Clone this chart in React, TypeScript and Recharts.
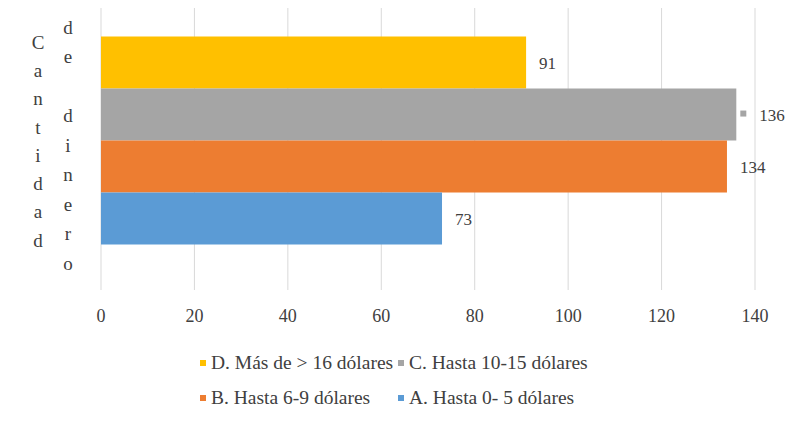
import { BarChart, Bar, XAxis, YAxis, CartesianGrid, LabelList } from "recharts";

const categories = ["Cantidad de dinero"];
const seriesNames = [
  "D. Más de > 16 dólares",
  "C. Hasta 10-15 dólares",
  "B. Hasta 6-9 dólares",
  "A. Hasta 0- 5 dólares",
];
const seriesValues = [91, 136, 134, 73];
const xTicks = [0, 20, 40, 60, 80, 100, 120, 140];

const colors = ["#FFC000", "#A5A5A5", "#ED7D31", "#5B9BD5"];
const FONT = "Liberation Serif, Tinos, Times New Roman, DejaVu Serif, serif";

// one row, one key per series
const data = categories.map((name) => {
  const row: Record<string, string | number> = { name };
  seriesNames.forEach((s, i) => {
    row[`s${i}`] = seriesValues[i];
  });
  return row;
});

// Excel-style stacked letters for the axis title
const AxisTitle = () => {
  const col1 = "Cantidad".split("");
  const col2 = "de dinero".split("");
  return (
    <g style={{ fontFamily: FONT }} fontSize={19} fill="#404040" textAnchor="middle">
      {col1.map((ch, i) => (
        <text key={`a${i}`} x={38} y={42 + i * 28.3} dy="0.35em">
          {ch}
        </text>
      ))}
      {col2.map((ch, i) => (
        <text key={`b${i}`} x={68} y={27 + i * 29.5} dy="0.35em">
          {ch}
        </text>
      ))}
    </g>
  );
};

const makeLabel = (withKey: boolean, color: string) => (props: any) => {
  const { x, y, width, height, value } = props;
  const cy = y + height / 2;
  const start = x + width + 13;
  return (
    <g>
      {withKey && <rect x={start - 9} y={cy - 4} width={6} height={6} fill={color} />}
      <text
        x={withKey ? start + 10 : start}
        y={cy}
        dy="0.35em"
        style={{ fontFamily: FONT }}
        fontSize={17}
        fill="#404040"
      >
        {value}
      </text>
    </g>
  );
};

export default function App() {
  return (
    <div
      style={{
        position: "relative",
        width: 794,
        height: 421,
        margin: -8,
        background: "#fff",
        fontFamily: FONT,
      }}
    >
      <div
        style={{
          position: "absolute",
          left: 5,
          top: 0,
          width: 787,
          height: 419,
          borderLeft: "2px solid #d0d0d0",
          borderRight: "1px solid #e0e0e0",
          borderBottom: "1px solid #e8e8e8",
        }}
      />
      <div style={{ position: "absolute", left: 0, top: 0 }}>
        <BarChart
          width={794}
          height={340}
          data={data}
          layout="vertical"
          margin={{ top: 3, right: 39, left: 0, bottom: 10 }}
          barCategoryGap="12.2%"
          barGap={0}
          style={{ fontFamily: FONT, overflow: "visible" }}
        >
          <CartesianGrid horizontal={false} stroke="#d9d9d9" />
          <XAxis
            type="number"
            domain={[0, 140]}
            ticks={xTicks}
            axisLine={false}
            tickLine={false}
            tickMargin={13}
            height={40}
            tick={{ fontSize: 18, fill: "#404040", style: { fontFamily: FONT } }}
          />
          <YAxis
            type="category"
            dataKey="name"
            width={101}
            tick={false}
            axisLine={false}
            tickLine={false}
            padding={{ top: 0, bottom: 12 }}
            label={{ content: () => <AxisTitle /> }}
          />
          {seriesNames.map((s, i) => (
            <Bar
              key={s}
              dataKey={`s${i}`}
              name={s}
              fill={colors[i]}
              isAnimationActive={false}
            >
              <LabelList dataKey={`s${i}`} content={makeLabel(i === 1, colors[i])} />
            </Bar>
          ))}
        </BarChart>
      </div>
      <div
        style={{
          position: "absolute",
          left: 200,
          top: 351,
          display: "grid",
          gridTemplateColumns: "198px 210px",
          rowGap: 11,
          fontSize: 19.5,
          color: "#404040",
          lineHeight: "24px",
        }}
      >
        {seriesNames.map((s, i) => (
          <div key={s} style={{ display: "flex", alignItems: "center", whiteSpace: "nowrap" }}>
            <span
              style={{
                display: "inline-block",
                width: 6,
                height: 6,
                background: colors[i],
                marginRight: 5,
              }}
            />
            {s}
          </div>
        ))}
      </div>
    </div>
  );
}
